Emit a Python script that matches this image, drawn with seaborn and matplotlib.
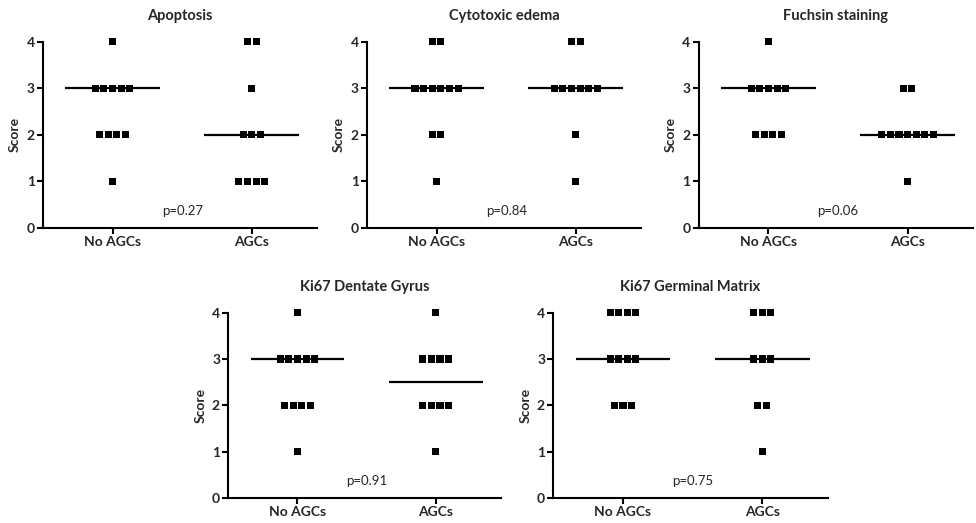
import numpy as np
import pandas as pd
import matplotlib
matplotlib.use("Agg")
import matplotlib.pyplot as plt
import seaborn as sns

sns.set_theme(style="ticks")
plt.rcParams["font.family"] = ["Lato", "DejaVu Sans"]

groups = ["No AGCs", "AGCs"]

apoptosis_no = [4, 3, 3, 3, 3, 3, 2, 2, 2, 2, 1]
apoptosis_agc = [4, 4, 3, 2, 2, 2, 1, 1, 1, 1]
edema_no = [4, 4, 3, 3, 3, 3, 3, 3, 2, 2, 1]
edema_agc = [4, 4, 3, 3, 3, 3, 3, 3, 2, 1]
fuchsin_no = [4, 3, 3, 3, 3, 3, 2, 2, 2, 2]
fuchsin_agc = [3, 3, 2, 2, 2, 2, 2, 2, 2, 1]
ki67_dg_no = [4, 3, 3, 3, 3, 3, 2, 2, 2, 2, 1]
ki67_dg_agc = [4, 3, 3, 3, 3, 2, 2, 2, 2, 1]
ki67_gm_no = [4, 4, 4, 4, 3, 3, 3, 3, 2, 2, 2]
ki67_gm_agc = [4, 4, 4, 3, 3, 3, 2, 2, 1]

titles = ["Apoptosis", "Cytotoxic edema", "Fuchsin staining",
          "Ki67 Dentate Gyrus", "Ki67 Germinal Matrix"]
p_values = ["p=0.27", "p=0.84", "p=0.06", "p=0.91", "p=0.75"]
panels = [
    (apoptosis_no, apoptosis_agc),
    (edema_no, edema_agc),
    (fuchsin_no, fuchsin_agc),
    (ki67_dg_no, ki67_dg_agc),
    (ki67_gm_no, ki67_gm_agc),
]

# axes rectangles in figure fractions: [left, bottom, width, height]
rects = [
    [0.044, 0.564, 0.281, 0.356],
    [0.376, 0.564, 0.281, 0.356],
    [0.716, 0.564, 0.281, 0.356],
    [0.234, 0.048, 0.279, 0.354],
    [0.567, 0.048, 0.281, 0.354],
]

STEP = 0.062      # horizontal spacing between tied points
HALF = 0.34       # half-width of the median bar


def spread(scores, center):
    """Lay tied scores side by side, centred on the group position."""
    xs, ys = [], []
    for v in sorted(set(scores), reverse=True):
        n = scores.count(v)
        for i in range(n):
            xs.append(center + (i - (n - 1) / 2) * STEP)
            ys.append(v)
    return xs, ys


fig = plt.figure(figsize=(9.76, 5.23), dpi=100)
for rect, title, pval, (no, agc) in zip(rects, titles, p_values, panels):
    ax = fig.add_axes(rect)
    rows = []
    for gi, (g, scores) in enumerate(zip(groups, (no, agc))):
        xs, ys = spread(list(scores), gi)
        rows += [{"x": x, "Score": y, "group": g} for x, y in zip(xs, ys)]
    df = pd.DataFrame(rows)
    sns.scatterplot(data=df, x="x", y="Score", marker="s", s=26,
                    color="black", edgecolor="none", ax=ax, clip_on=False,
                    zorder=3)
    for gi, scores in enumerate((no, agc)):
        med = np.median(scores)
        ax.hlines(med, gi - HALF, gi + HALF, color="black", lw=1.6, zorder=2)

    ax.set_xlim(-0.5, 1.47)
    ax.set_ylim(0, 4)
    ax.set_xticks([0, 1])
    ax.set_xticklabels(groups, fontweight="bold", fontsize=10)
    ax.set_yticks([0, 1, 2, 3, 4])
    ax.set_yticklabels(["0", "1", "2", "3", "4"], fontweight="bold", fontsize=10)
    ax.set_xlabel("")
    ax.set_ylabel("Score", fontweight="bold", fontsize=10, labelpad=4)
    ax.set_title(title, fontweight="bold", fontsize=10.5, pad=16)
    ax.text(0.5, 0.37, pval, ha="center", va="center", fontsize=9.5)
    sns.despine(ax=ax)
    for s in ("left", "bottom"):
        ax.spines[s].set_linewidth(1.5)
        ax.spines[s].set_color("black")
    ax.tick_params(axis="both", length=4, width=1.5, color="black", pad=2)

fig.savefig("out.png", dpi=100, facecolor="white")
